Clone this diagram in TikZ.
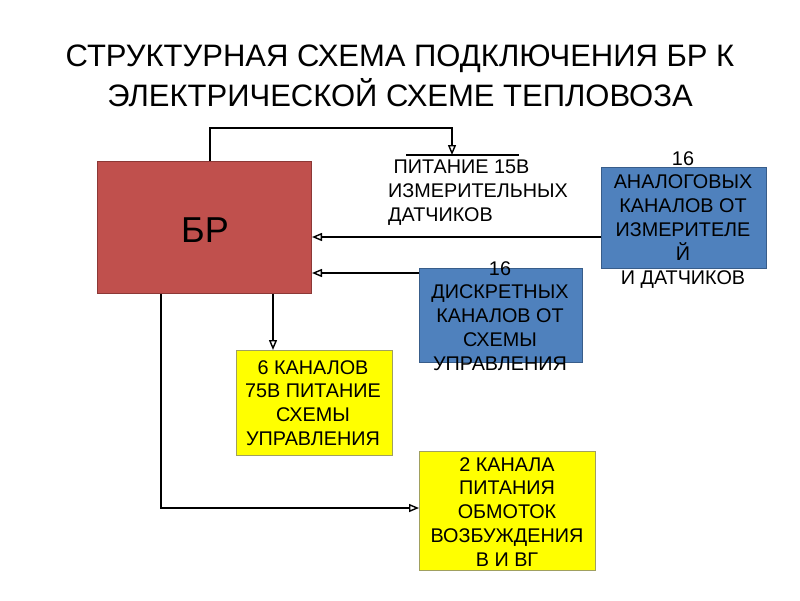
\documentclass[tikz,border=0pt]{standalone}
\usepackage{fontspec}
\setmainfont{Liberation Sans}
\usetikzlibrary{arrows.meta}
\definecolor{brred}{HTML}{C0504D}
\definecolor{brredline}{HTML}{8C3836}
\definecolor{bblue}{HTML}{4F81BD}
\definecolor{bblueline}{HTML}{385D8A}
\definecolor{yel}{HTML}{FFFF00}
\definecolor{yelline}{HTML}{A0A060}
\tikzset{
  box/.style={draw, line width=1pt, inner sep=0pt, anchor=north west},
  txt/.style={align=center, font=\fontsize{19.8}{23.8}\selectfont, inner sep=0pt},
  conn/.style={line width=1.8pt, -{Triangle[open, length=10pt, width=8pt, line width=1.4pt]}},
}
\begin{document}
\begin{tikzpicture}[x=1pt,y=-1pt]
\useasboundingbox (0,0) rectangle (800,600);
% title
\node[font=\fontsize{31}{40}\selectfont, align=center, inner sep=0pt] (title) at (400,76)
  {СТРУКТУРНАЯ СХЕМА ПОДКЛЮЧЕНИЯ БР К\\ЭЛЕКТРИЧЕСКОЙ СХЕМЕ ТЕПЛОВОЗА};
% boxes
\node[box, fill=brred, draw=brredline, minimum width=214pt, minimum height=132pt] (br) at (97,161) {};
\node[font=\fontsize{36}{36}\selectfont, inner sep=0pt] (brt) at (205,230) {БР};
\node[box, fill=bblue, draw=bblueline, minimum width=165pt, minimum height=101pt] (an) at (601,167) {};
\node[box, fill=bblue, draw=bblueline, minimum width=163pt, minimum height=94pt] (di) at (419,268) {};
\node[box, fill=yel, draw=yelline, minimum width=156pt, minimum height=105pt] (y1) at (236,350) {};
\node[box, fill=yel, draw=yelline, minimum width=176pt, minimum height=119pt] (y2) at (419,451) {};
% texts
\node[txt, anchor=north] (ant) at (683,151) {16\\АНАЛОГОВЫХ\\КАНАЛОВ ОТ\\ИЗМЕРИТЕЛЕ\\Й\\И ДАТЧИКОВ};
\node[txt, anchor=north] (dit) at (500,261) {16\\ДИСКРЕТНЫХ\\КАНАЛОВ ОТ\\СХЕМЫ\\УПРАВЛЕНИЯ};
\node[txt, anchor=north] (y1t) at (313,360) {6 КАНАЛОВ\\75В ПИТАНИЕ\\СХЕМЫ\\УПРАВЛЕНИЯ};
\node[txt, anchor=north] (y2t) at (507,457) {2 КАНАЛА\\ПИТАНИЯ\\ОБМОТОК\\ВОЗБУЖДЕНИЯ\\В И ВГ};
\node[txt, align=left, anchor=north west] (pt) at (388,160) {\ ПИТАНИЕ 15В\\ИЗМЕРИТЕЛЬНЫХ\\ДАТЧИКОВ};
% bus bar
\coordinate (busL) at (406,155);
\coordinate (busR) at (519,155);
\draw[line width=2.4pt] (busL) -- (busR);
% connectors
\coordinate (c1) at (210,128);
\coordinate (c2) at (452,128);
\coordinate (bustop) at (452,155);
\draw[conn] (br.north west -| c1) -- (c1) -- (c2) -- (bustop);
\draw[conn] (an.west |- 0,237) -- (br.east |- 0,237);
\draw[conn] (di.west |- 0,273) -- (br.east |- 0,273);
\draw[conn] (br.south west -| 273,0) -- (y1.north west -| 273,0);
\coordinate (c3) at (161,508);
\draw[conn] (br.south west -| c3) -- (c3) -- (y2.west |- c3);
\end{tikzpicture}
\end{document}
